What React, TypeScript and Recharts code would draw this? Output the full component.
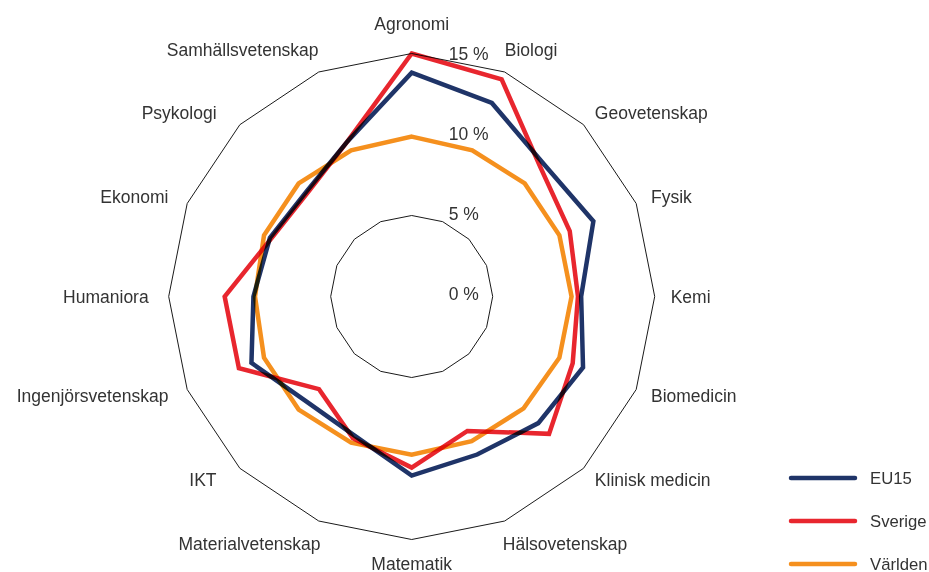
import React from 'react';
import { RadarChart, Radar, PolarGrid, PolarAngleAxis, PolarRadiusAxis, Legend } from 'recharts';

const categories = [
  'Agronomi', 'Biologi', 'Geovetenskap', 'Fysik', 'Kemi', 'Biomedicin', 'Klinisk medicin',
  'Hälsovetenskap', 'Matematik', 'Materialvetenskap', 'IKT', 'Ingenjörsvetenskap',
  'Humaniora', 'Ekonomi', 'Psykologi', 'Samhällsvetenskap',
];
const eu15 = [14.0, 13.1, 11.7, 12.3, 10.6, 11.6, 11.2, 10.7, 11.2, 9.4, 9.3, 10.85, 9.9, 9.6, 9.3, 10.5];
const sverige = [15.2, 14.7, 11.4, 10.7, 10.4, 10.9, 12.15, 9.1, 10.7, 9.6, 8.2, 11.7, 11.7, 9.5, 9.2, 10.5];
const varlden = [10.0, 9.9, 10.0, 10.0, 10.0, 10.0, 9.9, 9.8, 9.9, 9.9, 10.0, 10.0, 9.8, 10.0, 10.0, 9.9];
const radiusTicks = [0, 5, 10, 15];
const gridLevels = [5, 15];
const seriesNames = ['EU15', 'Sverige', 'Världen'];
const seriesColors = ['#1f3468', '#e8262e', '#f5901e'];

const seriesValues = [eu15, sverige, varlden];
const data = categories.map((c, i) => {
  const row: any = { category: c };
  seriesNames.forEach((s, k) => { row[s] = seriesValues[k][i]; });
  return row;
});

const W = 929;
const H = 572;
const CX = 411.7;
const CY = 296.5;
const OUTER = 243;
const MAX = 15;
const FONT = '"Liberation Sans", Arial, sans-serif';
const TEXT = '#333333';
const gridRadii = gridLevels.map((v) => (v / MAX) * OUTER);

const renderAngleTick = (props: any) => {
  const { payload } = props;
  const cx = typeof props.cx === 'number' ? props.cx : CX;
  const cy = typeof props.cy === 'number' ? props.cy : CY;
  const angle = payload.coordinate;
  const rad = (angle * Math.PI) / 180;
  const cos = Math.cos(rad);
  const sin = Math.sin(rad);
  const r = OUTER + 16;
  let x = cx + r * cos;
  let y = cy - r * sin;
  let anchor: 'start' | 'end' | 'middle' = 'middle';
  if (cos > 0.01) anchor = 'start';
  else if (cos < -0.01) anchor = 'end';
  if (sin > 0.95) y -= 13.5;
  else if (sin > 0.9) { y -= 7; x -= Math.sign(cos) * 6; }
  else if (sin < -0.95) y += 8;
  else if (sin < -0.9) { y += 8; x -= Math.sign(cos) * 8; }
  else if (cos < -0.6 && cos > -0.8) x -= 12;
  else if (cos < -0.9) x -= 4;
  return (
    <text x={x} y={y} textAnchor={anchor} dominantBaseline="central" fill={TEXT} fontSize={17.5} fontFamily={FONT}>
      {payload.value}
    </text>
  );
};

const renderRadiusTick = (props: any) => {
  const { x, y, payload } = props;
  return (
    <text x={x + 37} y={y - 3} textAnchor="start" dominantBaseline="central" fill={TEXT} fontSize={17.5} fontFamily={FONT}>
      {`${payload.value} %`}
    </text>
  );
};

const renderLegend = () => (
  <svg width={149} height={110} style={{ display: 'block' }}>
    {seriesNames.map((s, i) => (
      <g key={s}>
        <line x1={12} x2={76} y1={10 + i * 43} y2={10 + i * 43} stroke={seriesColors[i]} strokeWidth={4.5} strokeLinecap="round" />
        <text x={91} y={10 + i * 43} dominantBaseline="central" fill={TEXT} fontSize={16.7} fontFamily={FONT}>{s}</text>
      </g>
    ))}
  </svg>
);

export default function App() {
  return (
    <div style={{ position: 'absolute', left: 0, top: 0, width: W, height: H, background: '#fff' }}>
      <style>{`.recharts-radar { mix-blend-mode: multiply; }`}</style>
      <RadarChart width={W} height={H} data={data} cx={CX} cy={CY} outerRadius={OUTER} margin={{ top: 0, right: 0, bottom: 0, left: 0 }}>
        <PolarGrid gridType="polygon" radialLines={false} polarRadius={gridRadii} stroke="#1a1a1a" strokeWidth={1} />
        <PolarAngleAxis dataKey="category" tick={renderAngleTick} tickLine={false} axisLine={false} />
        <PolarRadiusAxis angle={90} domain={[0, MAX]} ticks={radiusTicks} tickCount={4} axisLine={false} tickLine={false} tick={renderRadiusTick} />
        {seriesNames.map((s, i) => (
          <Radar key={s} name={s} dataKey={s} stroke={seriesColors[i]} strokeWidth={4.5} fill="none" fillOpacity={0} dot={false} isAnimationActive={false} strokeLinejoin="miter" />
        ))}
        <Legend layout="vertical" align="center" verticalAlign="middle" content={renderLegend} wrapperStyle={{ left: 779, top: 468, width: 149, height: 110 }} />
      </RadarChart>
    </div>
  );
}
